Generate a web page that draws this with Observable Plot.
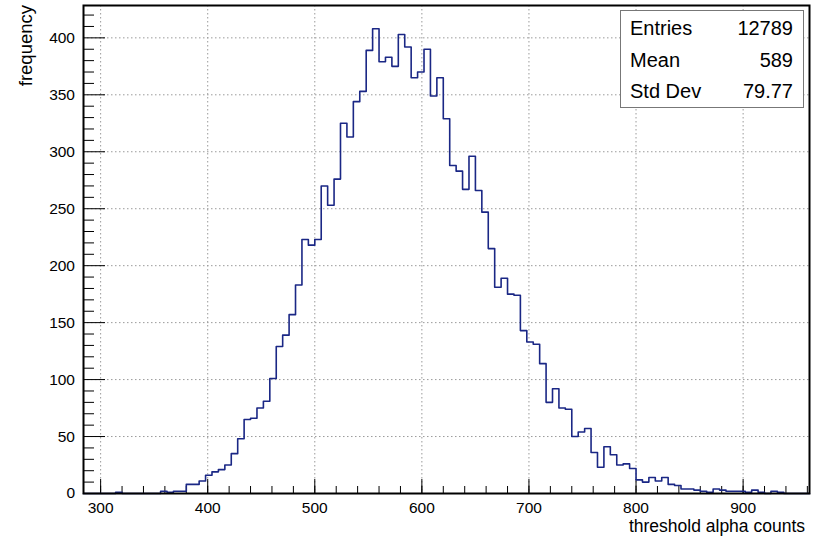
<!DOCTYPE html>
<html><head><meta charset="utf-8">
<script src="https://cdn.jsdelivr.net/npm/d3@7"></script>
<script src="https://cdn.jsdelivr.net/npm/@observablehq/plot@0.6"></script>
<style>
body{margin:0;background:#fff;}
#chart{position:relative;width:817px;height:539px;}
svg{font-family:"Liberation Sans",Arial,Helvetica,sans-serif;}
</style></head><body><div id="chart"></div>
<script>
// ---- data ----
const xMin = 284;          // lower edge of first bin
const binWidth = 6;        // bin width (threshold alpha counts)
const counts = [
  0,0,0,0,0,1,0,0,0,0,0,0,2,1,2,2,
  8,8,11,16,19,21,25,35,
  48,65,66,75,81,
  101,129,139,157,183,
  223,218,223,270,253,
  276,325,313,344,353,
  389,408,379,383,375,
  403,392,365,370,390,
  349,365,329,288,283,
  267,296,266,247,215,
  181,189,175,174,143,
  133,131,114,80,92,
  75,74,50,54,57,
  36,23,41,34,25,
  26,22,12,10,14,
  11,14,8,7,4,
  4,3,2,1,4,3,2,2,2,1,3,1,0,2,1,0,0,0,0
];
const yMax = 428.4;
const xMajorTicks = [300,400,500,600,700,800,900];
const xMinorTicks = [300,320,340,360,380,400,420,440,460,480,500,520,540,560,580,600,620,640,660,680,700,720,740,760,780,800,820,840,860,880,900,920,940,960];
const yMajorTicks = [0,50,100,150,200,250,300,350,400];
const yMinorTicks = [10,20,30,40,60,70,80,90,110,120,130,140,160,170,180,190,210,220,230,240,260,270,280,290,310,320,330,340,360,370,380,390,410,420];
const statLabels = ["Entries","Mean","Std Dev"];
const statValues = ["12789","589","79.77"];
const xTitle = "threshold alpha counts";
const yTitle = "frequency";

// ---- build ----
const W = 817, H = 539, mL = 83, mR = 8, mT = 5, mB = 46;
const innerW = W - mL - mR, innerH = H - mT - mB;
const xMax = xMin + counts.length * binWidth;
const pts = counts.map((c, i) => ({x: xMin + i * binWidth, y: c}));
pts.push({x: xMax, y: counts[counts.length - 1]});

const gridStyle = {stroke: "#9a9a9a", strokeOpacity: 1, strokeWidth: 1, strokeDasharray: "1.5,2.5"};

const chart = Plot.plot({
  width: W, height: H,
  marginLeft: mL, marginRight: mR, marginTop: mT, marginBottom: mB,
  style: {fontFamily: '"Liberation Sans",Arial,Helvetica,sans-serif', fontSize: "15px", color: "#000", background: "#fff"},
  x: {domain: [xMin, xMax], label: null},
  y: {domain: [0, yMax], label: null},
  marks: [
    Plot.gridX({ticks: xMajorTicks, ...gridStyle}),
    Plot.gridY({ticks: yMajorTicks, ...gridStyle}),
    Plot.ruleX(xMinorTicks, {stroke: "#000", strokeWidth: 1, insetTop: innerH - 7}),
    Plot.ruleX(xMajorTicks, {stroke: "#000", strokeWidth: 1, insetTop: innerH - 14}),
    Plot.ruleY(yMinorTicks, {stroke: "#000", strokeWidth: 1, insetRight: innerW - 11}),
    Plot.ruleY(yMajorTicks, {stroke: "#000", strokeWidth: 1, insetRight: innerW - 22}),
    Plot.line(pts, {x: "x", y: "y", curve: "step-after", stroke: "#1a2785", strokeWidth: 1.6}),
    Plot.axisX({ticks: xMajorTicks, tickSize: 0, tickPadding: 8, fontSize: 15.5, label: null}),
    Plot.axisY({ticks: yMajorTicks, tickSize: 0, tickPadding: 8.5, fontSize: 15.5, label: null}),
    Plot.frame({stroke: "#000", strokeWidth: 2})
  ]
});

const svg = d3.select(chart);
svg.append("text").attr("x", 805).attr("y", 532).attr("text-anchor", "end")
  .attr("font-size", 17.5).attr("fill", "#000").text(xTitle);
svg.append("text").attr("transform", "translate(32,5) rotate(-90)").attr("text-anchor", "end")
  .attr("font-size", 18.5).attr("fill", "#000").text(yTitle);

// stats box
const box = svg.append("g");
box.append("rect").attr("x", 620.5).attr("y", 10.5).attr("width", 183).attr("height", 97)
  .attr("fill", "#fff").attr("stroke", "#777").attr("stroke-width", 1);
const rowY = [35, 67, 98];
statLabels.forEach((t, i) => {
  box.append("text").attr("x", 630).attr("y", rowY[i]).attr("font-size", 20)
    .attr("text-anchor", "start").attr("fill", "#000").text(t);
  box.append("text").attr("x", 793).attr("y", rowY[i]).attr("font-size", 20)
    .attr("text-anchor", "end").attr("fill", "#000").text(statValues[i]);
});

document.getElementById("chart").appendChild(chart);
</script>
</body></html>
